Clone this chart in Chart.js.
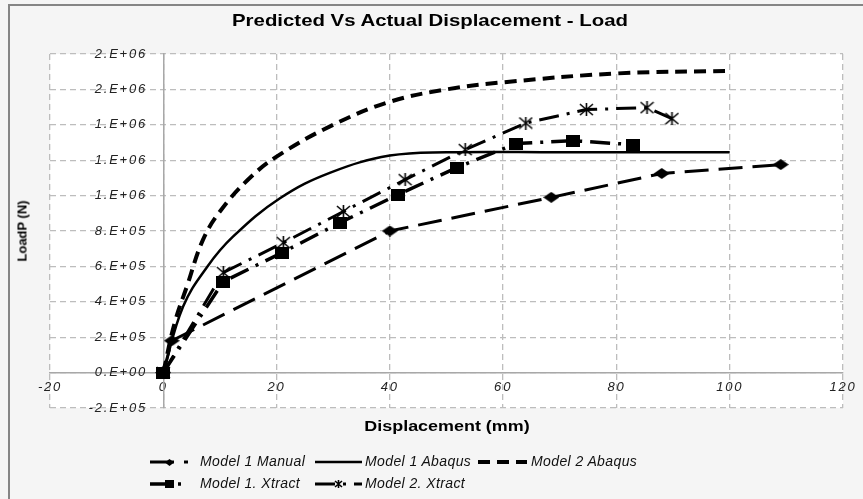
<!DOCTYPE html>
<html>
<head>
<meta charset="utf-8">
<script src="https://cdn.jsdelivr.net/npm/chart.js@4.4.1/dist/chart.umd.min.js"></script>
<style>
  html, body { margin: 0; padding: 0; background: #f5f5f5; }
  #wrap { position: relative; width: 863px; height: 499px; overflow: hidden; }
  .lbl { position: absolute; white-space: nowrap; font-family: "Liberation Sans", Arial, sans-serif; color: #000; }
  #title { left: 430px; top: 21px; font-size: 17px; font-weight: bold; transform: translate(-50%, -50%) scaleX(1.2); }
  #xtitle { left: 447px; top: 426px; font-size: 14px; font-weight: bold; transform: translate(-50%, -50%) scaleX(1.28); }
  #ytitle { left: 22px; top: 231px; font-size: 13px; font-weight: bold; transform: translate(-50%, -50%) rotate(-90deg); }
  .leg { position: absolute; height: 16px; }
  .leg canvas { position: absolute; left: 0; top: 0; }
  .leg span { position: absolute; top: -1px; font-family: "Liberation Sans", Arial, sans-serif; font-style: italic; font-size: 14px; letter-spacing: 0.4px; color: #111; white-space: nowrap; }
</style>
</head>
<body>
<div id="wrap">
  <canvas id="chart"></canvas>
  <div class="lbl" id="title">Predicted Vs Actual Displacement - Load</div>
  <div class="lbl" id="xtitle">Displacement (mm)</div>
  <div class="lbl" id="ytitle">LoadP (N)</div>
</div>
<script>
// ---------- data ----------

const xTicks = [-20, 0, 20, 40, 60, 80, 100, 120];
const yTicks = [-200000, 0, 200000, 400000, 600000, 800000, 1000000, 1200000, 1400000, 1600000, 1800000];

const seriesNames = ['Model 1 Manual', 'Model 1 Abaqus', 'Model 2 Abaqus', 'Model 1. Xtract', 'Model 2. Xtract'];

const manualX = [0, 1.5, 40, 68.5, 88, 109];
const manualY = [0, 180000, 800000, 990000, 1125000, 1175000];

const abaqus1X = [0, 3.5, 7.8, 12.3, 20.6, 29.5, 40, 50, 70, 100];
const abaqus1Y = [0, 373000, 600000, 768000, 985000, 1130000, 1226000, 1245000, 1245000, 1245000];

const abaqus2X = [0, 2, 4.2, 7, 10, 14.8, 20, 30, 40, 50, 60, 80, 100];
const abaqus2Y = [0, 280000, 490000, 750000, 910000, 1085000, 1220000, 1400000, 1530000, 1600000, 1640000, 1690000, 1705000];

const xtract1X = [0, 10.6, 21, 31.2, 41.5, 51.8, 62.3, 72.3, 82.9];
const xtract1Y = [0, 514000, 678000, 847000, 1006000, 1158000, 1294000, 1310000, 1288000];

const xtract2X = [0, 10.6, 21.2, 31.8, 42.7, 53.3, 64, 74.7, 85.4, 89.8];
const xtract2Y = [0, 565000, 734000, 910000, 1090000, 1260000, 1410000, 1486000, 1497000, 1435000];

// ---------- markers ----------

function makeCanvas(w, h, paint) {
    const c = document.createElement('canvas');
    c.width = w; c.height = h;
    paint(c.getContext('2d'), w, h);
    return c;
}
function diamond(w, h) {
    return makeCanvas(w, h, (g) => {
        g.fillStyle = '#000';
        g.beginPath(); g.moveTo(0, h / 2); g.lineTo(w / 2, 0); g.lineTo(w, h / 2); g.lineTo(w / 2, h); g.closePath(); g.fill();
    });
}
function square(w, h) {
    return makeCanvas(w, h, (g) => { g.fillStyle = '#000'; g.fillRect(0, 0, w, h); });
}
function star(w, h) {
    return makeCanvas(w, h, (g) => {
        g.strokeStyle = '#000'; g.lineWidth = 1.6;
        g.beginPath();
        g.moveTo(1, 1); g.lineTo(w - 1, h - 1);
        g.moveTo(w - 1, 1); g.lineTo(1, h - 1);
        g.moveTo(w / 2, 0); g.lineTo(w / 2, h);
        g.stroke();
    });
}

const zip = (xs, ys) => xs.map((x, i) => ({ x: x, y: ys[i] }));

const datasets = [
    { label: seriesNames[0], data: zip(manualX, manualY), borderWidth: 3, borderDash: [24, 10],
      pointStyle: diamond(16, 11), pointRadius: 5, legendMarker: diamond(9, 7) },
    { label: seriesNames[1], data: zip(abaqus1X, abaqus1Y), borderWidth: 2.5, borderDash: [],
      pointRadius: 0, tension: 0.4 },
    { label: seriesNames[2], data: zip(abaqus2X, abaqus2Y), borderWidth: 4, borderDash: [12, 7],
      pointRadius: 0, tension: 0.4 },
    { label: seriesNames[3], data: zip(xtract1X, xtract1Y), borderWidth: 3.5, borderDash: [20, 8, 3, 8],
      pointStyle: square(14, 12), pointRadius: 5, legendMarker: square(9, 8) },
    { label: seriesNames[4], data: zip(xtract2X, xtract2Y), borderWidth: 3, borderDash: [20, 8, 3, 8],
      pointStyle: star(15, 13), pointRadius: 5, legendMarker: star(9, 8) }
];
datasets.forEach(ds => {
    ds.showLine = true;
    ds.borderColor = '#000';
    ds.backgroundColor = '#000';
    ds.pointHoverRadius = ds.pointRadius;
});

// Excel style "0.E+00" labels
function sci(v) {
    if (v === 0) return '0.E+00';
    let e = Math.floor(Math.log10(Math.abs(v)));
    let m = Math.round(v / Math.pow(10, e));
    if (Math.abs(m) === 10) { m = m / 10; e += 1; }
    return m + '.E' + (e < 0 ? '-' : '+') + String(Math.abs(e)).padStart(2, '0');
}

const zeroPad = (s) => { s.paddingLeft = 0; s.paddingRight = 0; s.paddingTop = 0; s.paddingBottom = 0; };

const backdrop = {
    id: 'backdrop',
    beforeDraw(chart) {
        const { ctx, chartArea: a } = chart;
        ctx.save();
        ctx.fillStyle = '#f5f5f5';
        ctx.fillRect(0, 0, chart.width, chart.height);
        ctx.strokeStyle = '#858585';
        ctx.lineWidth = 2;
        ctx.beginPath();
        ctx.moveTo(9, chart.height); ctx.lineTo(9, 5); ctx.lineTo(chart.width, 5);
        ctx.stroke();
        ctx.fillStyle = '#fff';
        ctx.fillRect(a.left, a.top, a.right - a.left, a.bottom - a.top);
        ctx.restore();
        ctx.letterSpacing = '1.8px';
    }
};

const tickFont = { family: '"Liberation Sans", Arial, sans-serif', style: 'italic', size: 13 };

const chart = new Chart(document.getElementById('chart'), {
    type: 'scatter',
    data: { datasets: datasets },
    plugins: [backdrop],
    options: {
        responsive: true,
        maintainAspectRatio: false,
        animation: false,
        events: [],
        layout: { padding: { left: 50, right: 20, top: 54, bottom: 91 } },
        plugins: { legend: { display: false }, title: { display: false }, tooltip: { enabled: false } },
        scales: {
            x: {
                type: 'linear', position: { y: 0 }, min: -20, max: 120,
                afterBuildTicks: (s) => { s.ticks = xTicks.map(v => ({ value: v })); },
                afterFit: zeroPad,
                grid: { color: '#bdbdbd', lineWidth: 1.3, drawTicks: false },
                border: { color: '#a8a8a8', width: 1.5, dash: [6, 4] },
                ticks: { font: tickFont, color: '#222', padding: 7, maxRotation: 0 }
            },
            y: {
                type: 'linear', position: { x: 0 }, min: -200000, max: 1800000,
                afterBuildTicks: (s) => { s.ticks = yTicks.map(v => ({ value: v })); },
                afterFit: zeroPad,
                grid: { color: '#bdbdbd', lineWidth: 1.3, drawTicks: false },
                border: { color: '#a8a8a8', width: 1.5, dash: [6, 4] },
                // trailing spaces keep the labels clear of the zero line
                ticks: { font: tickFont, color: '#222', callback: (v) => sci(v) + '   ' }
            }
        }
    }
});

// ---------- legend ----------

const legendSlots = [
    { i: 0, x: 150, y: 454, w: 38, tx: 50 },
    { i: 1, x: 315, y: 454, w: 47, tx: 50 },
    { i: 2, x: 478, y: 454, w: 49, tx: 53 },
    { i: 3, x: 150, y: 476, w: 38, tx: 50 },
    { i: 4, x: 315, y: 476, w: 47, tx: 50 }
];
const wrap = document.getElementById('wrap');
legendSlots.forEach(slot => {
    const ds = datasets[slot.i];
    const item = document.createElement('div');
    item.className = 'leg';
    item.style.left = slot.x + 'px';
    item.style.top = slot.y + 'px';
    const sample = makeCanvas(slot.w, 16, (g, w, h) => {
        g.strokeStyle = '#000';
        g.lineWidth = ds.borderWidth;
        g.setLineDash(ds.borderDash);
        g.beginPath(); g.moveTo(0, h / 2); g.lineTo(w, h / 2); g.stroke();
        if (ds.legendMarker) {
            const m = ds.legendMarker;
            g.drawImage(m, Math.round((w - m.width) / 2), Math.round((h - m.height) / 2));
        }
    });
    item.appendChild(sample);
    const text = document.createElement('span');
    text.style.left = slot.tx + 'px';
    text.textContent = ds.label;
    item.appendChild(text);
    wrap.appendChild(item);
});
</script>
</body>
</html>
